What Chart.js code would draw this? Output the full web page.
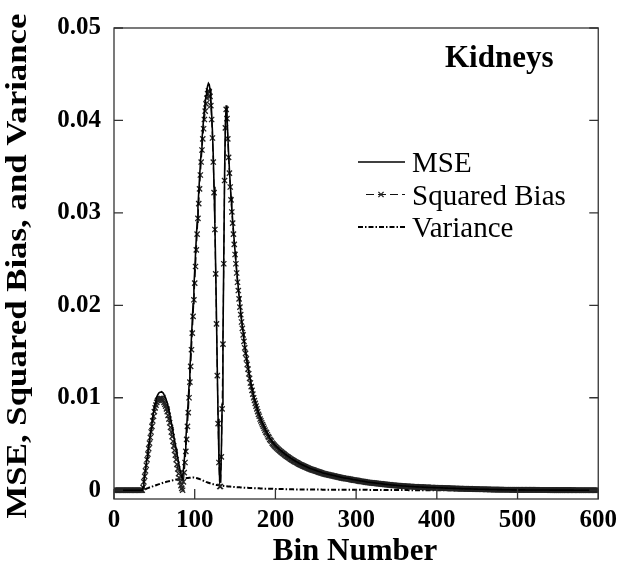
<!DOCTYPE html>
<html>
<head>
<meta charset="utf-8">
<title>Kidneys - MSE, Squared Bias, and Variance</title>
<script src="https://cdn.jsdelivr.net/npm/chart.js@4.4.0/dist/chart.umd.min.js"></script>
<style>
  html, body { margin: 0; padding: 0; background: #fff; }
  #wrap { width: 624px; height: 568px; }
</style>
</head>
<body>
<div id="wrap"><canvas id="grafico" width="624" height="568"></canvas></div>
<script>
// textos
const panelTitle = "Kidneys";
const xTitle = "Bin Number";
const yTitle = "MSE, Squared Bias, and Variance";
const seriesNames = ["MSE", "Squared Bias", "Variance"];

// ticks dos eixos
const xTicks = [0, 100, 200, 300, 400, 500, 600];
const yTicks = [0, 0.01, 0.02, 0.03, 0.04, 0.05];

// valores, um por bin (posicao no array = numero do bin, 0..600)
const mse = [
0,0,0,0,0,0,0,0,0,0,
0,0,0,0,0,0,0,0,0,0,
0,0,0,0,0,0,0,0,0,0,
0,0,0,0,0,0,0.00033,0.00096,0.0016,0.00223,
0.00286,0.0035,0.00413,0.00476,0.0054,0.00603,0.00666,0.00729,0.00792,0.00845,
0.00898,0.00941,0.00974,0.01007,0.0103,0.01043,0.01056,0.01059,0.01062,0.01065,
0.01058,0.01051,0.01033,0.01016,0.00998,0.00971,0.00943,0.00906,0.00868,0.0083,
0.00782,0.00734,0.00686,0.00638,0.0059,0.00542,0.00494,0.00446,0.00397,0.00349,
0.003,0.00252,0.00213,0.00174,0.00145,0.00126,0.00217,0.00318,0.00429,0.0055,
0.00681,0.00822,0.00973,0.01134,0.01305,0.01476,0.01657,0.01837,0.02018,0.02197,
0.02376,0.02554,0.02732,0.029,0.03067,0.03224,0.03381,0.03528,0.03664,0.0379,
0.03906,0.04012,0.04108,0.04194,0.0427,0.04327,0.04374,0.04401,0.04388,0.04335,
0.04232,0.0408,0.03877,0.03615,0.03283,0.02881,0.02399,0.01857,0.01296,0.00774,
0.00353,0.00092,0.0009,0.00409,0.00928,0.01627,0.02496,0.03395,0.03964,0.04163,
0.04062,0.03841,0.0364,0.03469,0.03319,0.03178,0.03047,0.02926,0.02806,0.02695,
0.02584,0.02484,0.02383,0.02282,0.02192,0.02101,0.02011,0.0193,0.0185,0.01779,
0.01709,0.01638,0.01568,0.01507,0.01447,0.01386,0.01336,0.01285,0.01235,0.01184,
0.01144,0.01103,0.01063,0.01022,0.00992,0.00962,0.00931,0.00901,0.0087,0.0084,
0.0082,0.00789,0.00769,0.00749,0.00728,0.00708,0.00688,0.00667,0.00647,0.00637,
0.00616,0.00596,0.00586,0.00566,0.00555,0.00545,0.00525,0.00515,0.00504,0.00494,
0.00484,0.00476,0.00468,0.00459,0.00451,0.00443,0.00435,0.00427,0.0042,0.00413,
0.00406,0.00399,0.00391,0.00384,0.00378,0.00372,0.00366,0.00359,0.00353,0.00347,
0.00341,0.00335,0.0033,0.00324,0.00319,0.00314,0.00309,0.00304,0.00299,0.00294,
0.00289,0.00285,0.0028,0.00276,0.00272,0.00268,0.00264,0.0026,0.00256,0.00252,
0.00248,0.00244,0.0024,0.00236,0.00233,0.0023,0.00227,0.00224,0.00221,0.00218,
0.00215,0.00212,0.00209,0.00206,0.00203,0.002,0.00197,0.00194,0.0019,0.00187,
0.00184,0.00182,0.0018,0.00178,0.00176,0.00174,0.00172,0.0017,0.00168,0.00166,
0.00164,0.00162,0.0016,0.00158,0.00156,0.00153,0.00151,0.00149,0.00147,0.00145,
0.00143,0.00141,0.00139,0.00137,0.00135,0.00133,0.00132,0.00131,0.0013,0.00129,
0.00128,0.00126,0.00124,0.00122,0.0012,0.00117,0.00115,0.00114,0.00113,0.00112,
0.00111,0.00109,0.00107,0.00105,0.00103,0.00101,0.001,0.00099,0.00098,0.00097,
0.00096,0.00094,0.00092,0.0009,0.00089,0.00087,0.00086,0.00085,0.00084,0.00083,
0.00082,0.00081,0.0008,0.00079,0.00078,0.00077,0.00076,0.00075,0.00074,0.00073,
0.00072,0.00071,0.0007,0.00069,0.00068,0.00066,0.00065,0.00064,0.00063,0.00062,
0.00061,0.0006,0.00059,0.00058,0.00057,0.00056,0.00055,0.00055,0.00054,0.00053,
0.00052,0.00051,0.00051,0.0005,0.00049,0.00049,0.00048,0.00047,0.00047,0.00046,
0.00045,0.00045,0.00044,0.00044,0.00043,0.00042,0.00041,0.00041,0.0004,0.0004,
0.00039,0.00039,0.00038,0.00038,0.00037,0.00037,0.00036,0.00036,0.00035,0.00035,
0.00034,0.00034,0.00033,0.00033,0.00032,0.00032,0.00032,0.00031,0.00031,0.00031,
0.0003,0.0003,0.0003,0.00029,0.00029,0.00029,0.00028,0.00028,0.00028,0.00027,
0.00027,0.00027,0.00026,0.00026,0.00026,0.00025,0.00025,0.00025,0.00024,0.00024,
0.00024,0.00023,0.00023,0.00023,0.00022,0.00022,0.00022,0.00021,0.00021,0.00021,
0.00021,0.0002,0.0002,0.0002,0.00019,0.00018,0.00018,0.00018,0.00017,0.00017,
0.00017,0.00016,0.00016,0.00016,0.00016,0.00015,0.00015,0.00015,0.00015,0.00014,
0.00014,0.00014,0.00014,0.00013,0.00013,0.00013,0.00013,0.00012,0.00012,0.00012,
0.00012,0.00011,0.00011,0.00011,0.00011,0.0001,0.0001,0.0001,0.0001,0.0001,
0.00009,0.00009,0.00009,0.00009,0.00009,0.00008,0.00008,0.00008,0.00008,0.00008,
0.00007,0.00007,0.00007,0.00007,0.00007,0.00006,0.00006,0.00006,0.00006,0.00006,
0.00006,0.00005,0.00005,0.00005,0.00005,0.00005,0.00005,0.00005,0.00005,0.00005,
0.00005,0.00005,0.00005,0.00004,0.00004,0.00004,0.00004,0.00004,0.00004,0.00004,
0.00004,0.00004,0.00004,0.00004,0.00004,0.00004,0.00004,0.00004,0.00004,0.00004,
0.00003,0.00003,0.00003,0.00003,0.00003,0.00003,0.00003,0.00003,0.00003,0.00003,
0.00003,0.00003,0.00003,0.00003,0.00003,0.00002,0.00002,0.00002,0.00002,0.00002,
0.00002,0.00002,0.00002,0.00002,0.00002,0.00002,0.00002,0.00002,0.00002,0.00002,
0.00001,0.00001,0.00001,0.00001,0.00001,0.00001,0.00001,0.00001,0.00001,0.00001,
0.00001,0.00001,0.00001,0.00001,0.00001,0.00001,0.00001,0.00001,0.00001,0.00001,
0.00001,0.00001,0.00001,0.00001,0.00001,0.00001,0.00001,0.00001,0.00001,0.00001,
0,0,0,0,0,0,0,0,0,0,
0,0,0,0,0,0,0,0,0,0,
0,0,0,0,0,0,0,0,0,0,0
];

const squaredBias = [
0,0,0,0,0,0,0,0,0,0,
0,0,0,0,0,0,0,0,0,0,
0,0,0,0,0,0,0,0,0,0,
0,0,0,0,0,0,0.0003,0.0009,0.0015,0.0021,
0.0027,0.0033,0.0039,0.0045,0.0051,0.0057,0.0063,0.0069,0.0075,0.008,
0.0085,0.0089,0.0092,0.0095,0.0097,0.0098,0.0099,0.0099,0.0099,0.0099,
0.0098,0.0097,0.0095,0.0093,0.0091,0.0088,0.0085,0.0081,0.0077,0.0073,
0.0068,0.0063,0.0058,0.0053,0.0048,0.0043,0.0038,0.0033,0.0028,0.0023,
0.0018,0.0013,0.0009,0.0005,0.0002,0,0.0009,0.0019,0.003,0.0042,
0.0055,0.0069,0.0084,0.01,0.0117,0.0134,0.0152,0.017,0.0188,0.0206,
0.0224,0.0242,0.026,0.0277,0.0294,0.031,0.0326,0.0341,0.0355,0.0368,
0.038,0.0391,0.0401,0.041,0.0418,0.0424,0.0429,0.0432,0.0431,0.0426,
0.0416,0.0401,0.0381,0.0355,0.0322,0.0282,0.0234,0.018,0.0124,0.0072,
0.003,0.0004,0.0004,0.0036,0.0088,0.0158,0.0245,0.0335,0.0392,0.0412,
0.0402,0.038,0.036,0.0343,0.0328,0.0314,0.0301,0.0289,0.0277,0.0266,
0.0255,0.0245,0.0235,0.0225,0.0216,0.0207,0.0198,0.019,0.0182,0.0175,
0.0168,0.0161,0.0154,0.0148,0.0142,0.0136,0.0131,0.0126,0.0121,0.0116,
0.0112,0.0108,0.0104,0.01,0.0097,0.0094,0.0091,0.0088,0.0085,0.0082,
0.008,0.0077,0.0075,0.0073,0.0071,0.0069,0.0067,0.0065,0.0063,0.0062,
0.006,0.0058,0.0057,0.0055,0.0054,0.0053,0.0051,0.005,0.0049,0.0048,
0.0047,0.00462,0.00454,0.00446,0.00438,0.0043,0.00422,0.00415,0.00408,0.00401,
0.00394,0.00387,0.0038,0.00373,0.00367,0.00361,0.00355,0.00349,0.00343,0.00337,
0.00331,0.00325,0.0032,0.00315,0.0031,0.00305,0.003,0.00295,0.0029,0.00285,
0.0028,0.00276,0.00272,0.00268,0.00264,0.0026,0.00256,0.00252,0.00248,0.00244,
0.0024,0.00236,0.00232,0.00229,0.00226,0.00223,0.0022,0.00217,0.00214,0.00211,
0.00208,0.00205,0.00202,0.00199,0.00196,0.00193,0.0019,0.00187,0.00184,0.00181,
0.00178,0.00176,0.00174,0.00172,0.0017,0.00168,0.00166,0.00164,0.00162,0.0016,
0.00158,0.00156,0.00154,0.00152,0.0015,0.00148,0.00146,0.00144,0.00142,0.0014,
0.00138,0.00136,0.00134,0.00132,0.0013,0.00128,0.00127,0.00126,0.00125,0.00124,
0.00123,0.00121,0.00119,0.00117,0.00115,0.00113,0.00111,0.0011,0.00109,0.00108,
0.00107,0.00105,0.00103,0.00101,0.00099,0.00097,0.00096,0.00095,0.00094,0.00093,
0.00092,0.0009,0.00088,0.00086,0.00085,0.00084,0.00083,0.00082,0.00081,0.0008,
0.00079,0.00078,0.00077,0.00076,0.00075,0.00074,0.00073,0.00072,0.00071,0.0007,
0.00069,0.00068,0.00067,0.00066,0.00065,0.00064,0.00063,0.00062,0.00061,0.0006,
0.00059,0.00058,0.00057,0.00056,0.00055,0.00054,0.00053,0.00053,0.00052,0.00051,
0.0005,0.00049,0.00049,0.00048,0.00047,0.00047,0.00046,0.00045,0.00045,0.00044,
0.00043,0.00043,0.00042,0.00042,0.00041,0.00041,0.0004,0.0004,0.00039,0.00039,
0.00038,0.00038,0.00037,0.00037,0.00036,0.00036,0.00035,0.00035,0.00034,0.00034,
0.00033,0.00033,0.00032,0.00032,0.00031,0.00031,0.00031,0.0003,0.0003,0.0003,
0.00029,0.00029,0.00029,0.00028,0.00028,0.00028,0.00027,0.00027,0.00027,0.00026,
0.00026,0.00026,0.00025,0.00025,0.00025,0.00024,0.00024,0.00024,0.00023,0.00023,
0.00023,0.00022,0.00022,0.00022,0.00021,0.00021,0.00021,0.0002,0.0002,0.0002,
0.0002,0.00019,0.00019,0.00019,0.00018,0.00018,0.00018,0.00018,0.00017,0.00017,
0.00017,0.00016,0.00016,0.00016,0.00016,0.00015,0.00015,0.00015,0.00015,0.00014,
0.00014,0.00014,0.00014,0.00013,0.00013,0.00013,0.00013,0.00012,0.00012,0.00012,
0.00012,0.00011,0.00011,0.00011,0.00011,0.0001,0.0001,0.0001,0.0001,0.0001,
0.00009,0.00009,0.00009,0.00009,0.00009,0.00008,0.00008,0.00008,0.00008,0.00008,
0.00007,0.00007,0.00007,0.00007,0.00007,0.00006,0.00006,0.00006,0.00006,0.00006,
0.00006,0.00005,0.00005,0.00005,0.00005,0.00005,0.00005,0.00005,0.00005,0.00005,
0.00005,0.00005,0.00005,0.00004,0.00004,0.00004,0.00004,0.00004,0.00004,0.00004,
0.00004,0.00004,0.00004,0.00004,0.00004,0.00004,0.00004,0.00004,0.00004,0.00004,
0.00003,0.00003,0.00003,0.00003,0.00003,0.00003,0.00003,0.00003,0.00003,0.00003,
0.00003,0.00003,0.00003,0.00003,0.00003,0.00002,0.00002,0.00002,0.00002,0.00002,
0.00002,0.00002,0.00002,0.00002,0.00002,0.00002,0.00002,0.00002,0.00002,0.00002,
0.00001,0.00001,0.00001,0.00001,0.00001,0.00001,0.00001,0.00001,0.00001,0.00001,
0.00001,0.00001,0.00001,0.00001,0.00001,0.00001,0.00001,0.00001,0.00001,0.00001,
0.00001,0.00001,0.00001,0.00001,0.00001,0.00001,0.00001,0.00001,0.00001,0.00001,
0,0,0,0,0,0,0,0,0,0,
0,0,0,0,0,0,0,0,0,0,
0,0,0,0,0,0,0,0,0,0,0
];

const variance = [
0,0,0,0,0,0,0,0,0,0,
0,0,0,0,0,0,0,0,0,0,
0,0,0,0,0,0,0,0,0,0,
0,0,0,0,0,0,0.00003,0.00006,0.0001,0.00013,
0.00016,0.0002,0.00023,0.00026,0.0003,0.00033,0.00036,0.00039,0.00042,0.00045,
0.00048,0.00051,0.00054,0.00057,0.0006,0.00063,0.00066,0.00069,0.00072,0.00075,
0.00078,0.00081,0.00083,0.00086,0.00088,0.00091,0.00093,0.00096,0.00098,0.001,
0.00102,0.00104,0.00106,0.00108,0.0011,0.00112,0.00114,0.00116,0.00117,0.00119,
0.0012,0.00122,0.00123,0.00124,0.00125,0.00126,0.00127,0.00128,0.00129,0.0013,
0.00131,0.00132,0.00133,0.00134,0.00135,0.00136,0.00137,0.00137,0.00138,0.00137,
0.00136,0.00134,0.00132,0.0013,0.00127,0.00124,0.00121,0.00118,0.00114,0.0011,
0.00106,0.00102,0.00098,0.00094,0.0009,0.00087,0.00084,0.00081,0.00078,0.00075,
0.00072,0.0007,0.00067,0.00065,0.00063,0.00061,0.00059,0.00057,0.00056,0.00054,
0.00053,0.00052,0.0005,0.00049,0.00048,0.00047,0.00046,0.00045,0.00044,0.00043,
0.00042,0.00041,0.0004,0.00039,0.00039,0.00038,0.00037,0.00036,0.00036,0.00035,
0.00034,0.00034,0.00033,0.00032,0.00032,0.00031,0.00031,0.0003,0.0003,0.00029,
0.00029,0.00028,0.00028,0.00027,0.00027,0.00026,0.00026,0.00025,0.00025,0.00024,
0.00024,0.00023,0.00023,0.00022,0.00022,0.00022,0.00021,0.00021,0.0002,0.0002,
0.0002,0.00019,0.00019,0.00019,0.00018,0.00018,0.00018,0.00017,0.00017,0.00017,
0.00016,0.00016,0.00016,0.00016,0.00015,0.00015,0.00015,0.00015,0.00014,0.00014,
0.00014,0.00014,0.00014,0.00013,0.00013,0.00013,0.00013,0.00012,0.00012,0.00012,
0.00012,0.00012,0.00011,0.00011,0.00011,0.00011,0.00011,0.0001,0.0001,0.0001,
0.0001,0.0001,0.0001,0.00009,0.00009,0.00009,0.00009,0.00009,0.00009,0.00009,
0.00009,0.00009,0.00008,0.00008,0.00008,0.00008,0.00008,0.00008,0.00008,0.00008,
0.00008,0.00008,0.00008,0.00007,0.00007,0.00007,0.00007,0.00007,0.00007,0.00007,
0.00007,0.00007,0.00007,0.00007,0.00007,0.00007,0.00007,0.00007,0.00006,0.00006,
0.00006,0.00006,0.00006,0.00006,0.00006,0.00006,0.00006,0.00006,0.00006,0.00006,
0.00006,0.00006,0.00006,0.00006,0.00006,0.00005,0.00005,0.00005,0.00005,0.00005,
0.00005,0.00005,0.00005,0.00005,0.00005,0.00005,0.00005,0.00005,0.00005,0.00005,
0.00005,0.00005,0.00005,0.00005,0.00005,0.00004,0.00004,0.00004,0.00004,0.00004,
0.00004,0.00004,0.00004,0.00004,0.00004,0.00004,0.00004,0.00004,0.00004,0.00004,
0.00004,0.00004,0.00004,0.00004,0.00004,0.00003,0.00003,0.00003,0.00003,0.00003,
0.00003,0.00003,0.00003,0.00003,0.00003,0.00003,0.00003,0.00003,0.00003,0.00003,
0.00003,0.00003,0.00003,0.00003,0.00003,0.00002,0.00002,0.00002,0.00002,0.00002,
0.00002,0.00002,0.00002,0.00002,0.00002,0.00002,0.00002,0.00002,0.00002,0.00002,
0.00002,0.00002,0.00002,0.00002,0.00002,0.00002,0.00002,0.00002,0.00002,0.00002,
0.00002,0.00002,0.00002,0.00002,0.00002,0.00001,0.00001,0.00001,0.00001,0.00001,
0.00001,0.00001,0.00001,0.00001,0.00001,0.00001,0.00001,0.00001,0.00001,0.00001,
0.00001,0.00001,0.00001,0.00001,0.00001,0.00001,0.00001,0.00001,0.00001,0.00001,
0.00001,0.00001,0.00001,0.00001,0.00001,0.00001,0.00001,0.00001,0.00001,0.00001,
0.00001,0.00001,0.00001,0.00001,0.00001,0.00001,0.00001,0.00001,0.00001,0.00001,
0.00001,0.00001,0.00001,0.00001,0.00001,0,0,0,0,0,
0,0,0,0,0,0,0,0,0,0,
0,0,0,0,0,0,0,0,0,0,
0,0,0,0,0,0,0,0,0,0,
0,0,0,0,0,0,0,0,0,0,
0,0,0,0,0,0,0,0,0,0,
0,0,0,0,0,0,0,0,0,0,
0,0,0,0,0,0,0,0,0,0,
0,0,0,0,0,0,0,0,0,0,
0,0,0,0,0,0,0,0,0,0,
0,0,0,0,0,0,0,0,0,0,
0,0,0,0,0,0,0,0,0,0,
0,0,0,0,0,0,0,0,0,0,
0,0,0,0,0,0,0,0,0,0,
0,0,0,0,0,0,0,0,0,0,
0,0,0,0,0,0,0,0,0,0,
0,0,0,0,0,0,0,0,0,0,
0,0,0,0,0,0,0,0,0,0,0
];

const serif = "'Liberation Serif', 'Times New Roman', serif";
Chart.defaults.font.family = serif;
Chart.defaults.color = "#000";

// cada valor vai no seu bin
const porBin = vals => vals.map((v, i) => ({ x: i, y: v }));

// moldura com ticks para dentro (esquerda, direita e baixo)
const moldura = {
  id: "moldura",
  afterDatasetsDraw(chart) {
    const { ctx, chartArea: a, scales: { x, y } } = chart;
    ctx.save();
    ctx.strokeStyle = "#333";
    ctx.lineWidth = 1.3;
    ctx.strokeRect(a.left, a.top, a.right - a.left, a.bottom - a.top);
    ctx.beginPath();
    xTicks.forEach(v => {
      const px = x.getPixelForValue(v);
      ctx.moveTo(px, a.bottom);
      ctx.lineTo(px, a.bottom - 10);
    });
    yTicks.forEach(v => {
      const py = y.getPixelForValue(v);
      ctx.moveTo(a.left, py);
      ctx.lineTo(a.left + 9, py);
      ctx.moveTo(a.right, py);
      ctx.lineTo(a.right - 9, py);
    });
    ctx.stroke();
    ctx.restore();
  }
};

// titulos dos eixos e rotulo do painel
const textos = {
  id: "textos",
  afterDraw(chart) {
    const ctx = chart.ctx;
    ctx.save();
    ctx.fillStyle = "#000";

    // titulo do eixo y (esticado no comprimento como na figura)
    ctx.font = "bold 29px " + serif;
    const w = ctx.measureText(yTitle).width;
    ctx.translate(26, 266);
    ctx.rotate(-Math.PI / 2);
    ctx.scale(505 / w, 1);
    ctx.textAlign = "center";
    ctx.textBaseline = "alphabetic";
    ctx.fillText(yTitle, 0, 0);
    ctx.setTransform(1, 0, 0, 1, 0, 0);

    ctx.font = "bold 31px " + serif;
    ctx.textAlign = "center";
    ctx.fillText(xTitle, 355, 560);

    ctx.textAlign = "left";
    ctx.fillText(panelTitle, 445, 67);
    ctx.restore();
  }
};

// legenda desenhada dentro do grafico
const legenda = {
  id: "legenda",
  afterDraw(chart) {
    const ctx = chart.ctx;
    ctx.save();
    chart.data.datasets.forEach((ds, i) => {
      const base = 172 + i * 32.5;
      const ly = base - 10;
      const x0 = ds.pointRadius > 0 ? 366 : 358;
      ctx.strokeStyle = ds.borderColor;
      ctx.lineWidth = ds.borderWidth;
      ctx.setLineDash(ds.borderDash || []);
      ctx.beginPath();
      ctx.moveTo(x0, ly);
      ctx.lineTo(405, ly);
      ctx.stroke();
      ctx.setLineDash([]);
      if (ds.pointRadius > 0) {
        const r = ds.pointRadius, cx = 381;
        ctx.strokeStyle = ds.pointBorderColor;
        ctx.lineWidth = ds.pointBorderWidth;
        ctx.beginPath();
        ctx.moveTo(cx - r * 0.7, ly - r * 0.7); ctx.lineTo(cx + r * 0.7, ly + r * 0.7);
        ctx.moveTo(cx + r * 0.7, ly - r * 0.7); ctx.lineTo(cx - r * 0.7, ly + r * 0.7);
        ctx.stroke();
      }
      ctx.fillStyle = "#000";
      ctx.font = "29px " + serif;
      ctx.textAlign = "left";
      ctx.textBaseline = "alphabetic";
      ctx.fillText(ds.label, 412, base);
    });
    ctx.restore();
  }
};

new Chart(document.getElementById("grafico"), {
  type: "line",
  data: {
    datasets: [
      {
        label: seriesNames[0],
        data: porBin(mse),
        borderColor: "#000",
        borderWidth: 1.6,
        pointRadius: 0,
        tension: 0
      },
      {
        label: seriesNames[1],
        data: porBin(squaredBias),
        borderColor: "#111",
        borderWidth: 1.2,
        borderDash: [8, 4],
        pointStyle: "crossRot",
        pointRadius: 3.7,
        pointBorderWidth: 1.3,
        pointBorderColor: "#222",
        pointBackgroundColor: "rgba(0,0,0,0)",
        tension: 0
      },
      {
        label: seriesNames[2],
        data: porBin(variance),
        borderColor: "#000",
        borderWidth: 2,
        borderDash: [5, 2, 1.5, 2],
        pointRadius: 0,
        tension: 0
      }
    ]
  },
  options: {
    responsive: false,
    animation: false,
    events: [],
    layout: { padding: { left: 0, top: 18, right: 24, bottom: 0 } },
    plugins: {
      legend: { display: false },
      tooltip: { enabled: false },
      title: { display: false }
    },
    scales: {
      x: {
        type: "linear",
        min: 0,
        max: 600,
        afterBuildTicks: s => { s.ticks = xTicks.map(v => ({ value: v })); },
        afterFit: s => { s.height = 69; },
        grid: { display: false, drawTicks: false },
        border: { display: false },
        ticks: {
          autoSkip: false,
          maxRotation: 0,
          padding: 7,
          color: "#000",
          font: { size: 25, weight: "bold" },
          callback: v => String(v)
        }
      },
      y: {
        type: "linear",
        min: -0.00095,
        max: 0.05,
        afterBuildTicks: s => { s.ticks = yTicks.map(v => ({ value: v })); },
        afterFit: s => { s.width = 114; },
        grid: { display: false, drawTicks: false },
        border: { display: false },
        ticks: {
          padding: 13,
          color: "#000",
          font: { size: 25, weight: "bold" },
          callback: v => (v === 0 ? "0" : v.toFixed(2))
        }
      }
    }
  },
  plugins: [moldura, textos, legenda]
});
</script>
</body>
</html>
